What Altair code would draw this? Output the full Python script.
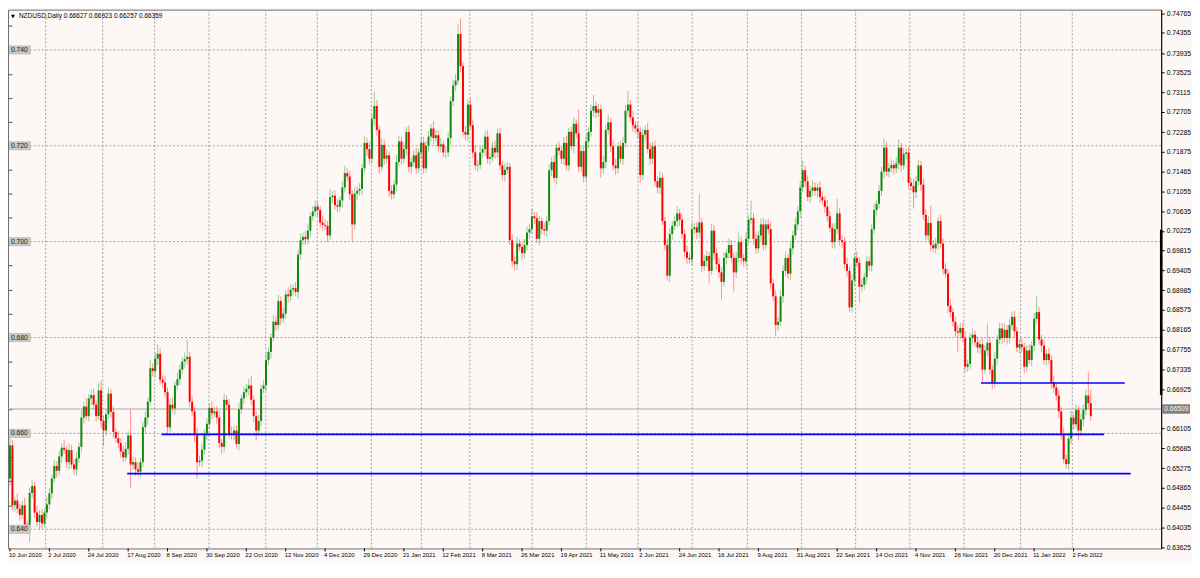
import json
import altair as alt
import pandas as pd

# ---------------- data (prices in 1/10000 units) ----------------
first_open = 6506
closes = [
    6575, 6450, 6460, 6443, 6430, 6450, 6410, 6400, 6476, 6490,
    6435, 6415, 6430, 6412, 6435, 6452, 6475, 6506, 6532, 6522,
    6552, 6570, 6566, 6540, 6565, 6535, 6525, 6548, 6572, 6633,
    6656, 6636, 6673, 6680, 6660, 6636, 6690, 6626, 6606, 6640,
    6683, 6645, 6603, 6590, 6580, 6562, 6550, 6568, 6596, 6535,
    6540, 6525, 6520, 6540, 6613, 6633, 6666, 6736, 6730, 6756,
    6766, 6712, 6706, 6686, 6613, 6660, 6652, 6700, 6713, 6733,
    6750, 6755, 6760, 6666, 6646, 6596, 6540, 6543, 6566, 6600,
    6620, 6653, 6642, 6646, 6633, 6580, 6572, 6670, 6660, 6598,
    6600, 6606, 6578, 6650, 6673, 6686, 6693, 6700, 6670, 6636,
    6606, 6626, 6693, 6700, 6753, 6770, 6800, 6833, 6826, 6876,
    6840, 6850, 6890, 6886, 6900, 6903, 6895, 6973, 7003, 7010,
    7005, 7023, 7053, 7063, 7073, 7066, 7040, 7035, 7033, 7013,
    7093, 7096, 7076, 7073, 7086, 7113, 7143, 7136, 7099, 7036,
    7100, 7106, 7110, 7153, 7206, 7193, 7173, 7256, 7283, 7233,
    7156, 7202, 7173, 7180, 7106, 7099, 7119, 7166, 7209, 7173,
    7193, 7229, 7156, 7166, 7180, 7153, 7186, 7206, 7153, 7200,
    7219, 7236, 7216, 7222, 7199, 7203, 7186, 7186, 7216, 7293,
    7326, 7336, 7433, 7366, 7229, 7223, 7286, 7243, 7186, 7159,
    7160, 7186, 7193, 7219, 7173, 7176, 7196, 7186, 7226, 7159,
    7139, 7150, 7156, 7003, 6959, 6953, 6996, 6989, 6976, 6993,
    7019, 7026, 7053, 7049, 7006, 7043, 7026, 7023, 7043, 7149,
    7166, 7133, 7196, 7190, 7173, 7206, 7159, 7229, 7199, 7246,
    7226, 7156, 7189, 7136, 7209, 7229, 7273, 7283, 7269, 7276,
    7153, 7166, 7233, 7249, 7199, 7159, 7153, 7199, 7173, 7206,
    7273, 7286, 7259, 7243, 7236, 7229, 7139, 7223, 7233, 7193,
    7173, 7199, 7126, 7113, 7133, 7043, 6993, 6929, 7016, 7033,
    7043, 7059, 7046, 7016, 6979, 6966, 6963, 7026, 7030, 7019,
    7040, 6949, 6960, 6970, 6939, 7023, 6976, 6953, 6936, 6916,
    6966, 6976, 6993, 6966, 6936, 6966, 6999, 6966, 6959, 7006,
    7046, 7049, 7006, 6986, 7013, 7036, 6993, 7036, 7026, 6913,
    6886, 6826, 6833, 6886, 6939, 6966, 6933, 6986, 7013, 7036,
    7063, 7113, 7149, 7126, 7093, 7106, 7113, 7106, 7113, 7093,
    7086, 7073, 7053, 7029, 6999, 7026, 7059, 7003, 6999, 6953,
    6939, 6863, 6919, 6966, 6956, 6906, 6910, 6926, 6959, 6950,
    7026, 7066, 7079, 7106, 7146, 7196, 7146, 7153, 7160, 7153,
    7163, 7196, 7159, 7183, 7186, 7123, 7116, 7103, 7126, 7159,
    7119, 7056, 7013, 7039, 6993, 6986, 6996, 7043, 6996, 6943,
    6933, 6866, 6853, 6833, 6813, 6810, 6820, 6799, 6739, 6745,
    6799, 6806, 6790, 6779, 6786, 6733, 6773, 6789, 6733, 6706,
    6756, 6796, 6819, 6799, 6816, 6799, 6826, 6843, 6813, 6779,
    6786, 6780, 6739, 6773, 6753, 6783, 6839, 6853, 6796, 6783,
    6753, 6766, 6753, 6706, 6696, 6679, 6646, 6599, 6546, 6536,
    6589, 6633, 6619, 6649, 6606, 6629, 6649, 6679, 6663, 6636,
]
# wick lengths above / below the candle body (1/10000 units)
wick_up = [
    15, 12, 8, 14, 10, 9, 16, 7, 11, 13,
    9, 14, 10, 12, 8, 15, 11, 9, 13, 10,
    12, 9, 16, 8, 14, 11, 10, 13, 9, 15,
    10, 18, 9, 12, 14, 8, 16, 20, 11, 10,
    13, 9, 12, 8, 15, 10, 11, 14, 9, 54,
    12, 10, 15, 9, 11, 13, 8, 16, 10, 12,
    20, 11, 9, 14, 10, 12, 15, 8, 13, 11,
    9, 14, 36, 10, 12, 8, 15, 11, 13, 9,
    12, 10, 14, 9, 11, 16, 8, 13, 10, 12,
    15, 9, 11, 13, 8, 12, 10, 14, 20, 9,
    11, 13, 9, 12, 15, 10, 8, 14, 11, 13,
    10, 12, 9, 16, 11, 8, 13, 10, 14, 9,
    12, 15, 8, 11, 13, 10, 9, 14, 12, 10,
    16, 9, 11, 13, 8, 12, 15, 10, 11, 9,
    13, 10, 12, 9, 14, 11, 15, 10, 30, 12,
    9, 14, 11, 13, 8, 12, 10, 15, 11, 9,
    14, 10, 13, 9, 12, 16, 8, 11, 13, 10,
    12, 9, 15, 11, 10, 13, 8, 14, 12, 10,
    11, 14, 20, 32, 9, 12, 10, 13, 11, 15,
    10, 13, 9, 12, 14, 8, 11, 15, 10, 12,
    9, 13, 11, 8, 12, 10, 14, 9, 11, 13,
    12, 10, 15, 9, 13, 11, 8, 14, 10, 12,
    11, 14, 9, 13, 10, 12, 15, 8, 11, 13,
    9, 50, 12, 10, 14, 11, 13, 23, 9, 12,
    10, 13, 11, 15, 9, 12, 14, 8, 11, 13,
    12, 28, 10, 14, 9, 13, 11, 12, 10, 15,
    13, 9, 12, 10, 14, 11, 8, 13, 12, 10,
    11, 15, 9, 12, 10, 13, 11, 14, 9, 12,
    60, 10, 13, 11, 9, 14, 12, 10, 13, 11,
    12, 9, 14, 10, 11, 13, 20, 12, 9, 14,
    10, 37, 11, 13, 9, 12, 14, 10, 11, 15,
    9, 12, 10, 14, 11, 13, 8, 12, 10, 14,
    11, 13, 20, 9, 12, 10, 15, 11, 9, 13,
    12, 10, 14, 11, 9, 13, 30, 12, 10, 11,
    13, 9, 12, 10, 14, 11, 13, 9, 12, 10,
    11, 14, 9, 12, 10, 20, 13, 11, 12, 9,
    14, 17, 10, 12, 9, 13, 11, 15, 10, 12,
    9, 13, 11, 14, 37, 10, 12, 9, 13, 11,
    12, 10, 14, 9, 11, 13, 10, 12, 15, 9,
    11, 13, 9, 12, 10, 14, 11, 40, 12, 10,
    13, 9, 12, 11, 14, 10, 12, 10, 13, 9,
    12, 14, 10, 11, 13, 9, 12, 34, 11, 10,
    13, 9, 12, 10, 14, 11, 12, 9, 13, 10,
    11, 14, 10, 12, 9, 13, 11, 12, 50, 29,
]
wick_dn = [
    16, 10, 13, 9, 12, 8, 14, 11, 27, 10,
    12, 9, 14, 11, 8, 13, 10, 12, 9, 14,
    10, 13, 9, 12, 15, 8, 11, 14, 10, 12,
    13, 9, 11, 14, 10, 12, 8, 15, 33, 11,
    10, 12, 14, 9, 11, 13, 10, 8, 12, 49,
    11, 14, 9, 12, 10, 13, 15, 8, 11, 12,
    13, 10, 12, 9, 14, 11, 8, 13, 10, 12,
    9, 13, 11, 12, 10, 14, 34, 9, 12, 11,
    14, 10, 12, 9, 13, 11, 15, 10, 12, 9,
    11, 14, 10, 13, 9, 12, 10, 14, 11, 13,
    20, 10, 13, 9, 12, 11, 14, 8, 12, 10,
    13, 9, 11, 14, 10, 12, 9, 13, 11, 10,
    12, 10, 14, 9, 11, 13, 10, 12, 9, 14,
    10, 13, 9, 12, 11, 14, 10, 9, 12, 36,
    11, 13, 10, 12, 9, 14, 11, 10, 13, 12,
    14, 10, 12, 9, 13, 11, 10, 14, 9, 12,
    10, 13, 11, 14, 9, 12, 10, 13, 11, 9,
    12, 10, 14, 9, 11, 13, 10, 12, 9, 14,
    10, 12, 9, 13, 10, 11, 14, 9, 12, 10,
    13, 9, 11, 14, 10, 12, 9, 13, 11, 10,
    12, 14, 9, 10, 11, 14, 12, 9, 13, 10,
    11, 13, 10, 12, 9, 14, 11, 10, 13, 9,
    12, 10, 14, 9, 11, 13, 10, 12, 9, 14,
    10, 12, 11, 13, 9, 14, 10, 12, 11, 9,
    20, 11, 13, 9, 12, 10, 14, 11, 9, 13,
    10, 12, 9, 14, 11, 13, 16, 10, 12, 9,
    13, 11, 10, 12, 14, 9, 11, 10, 13, 12,
    9, 12, 14, 10, 11, 13, 9, 12, 10, 14,
    11, 13, 10, 12, 26, 9, 14, 11, 12, 37,
    10, 13, 11, 9, 40, 12, 10, 14, 11, 13,
    12, 9, 13, 11, 10, 14, 12, 9, 11, 13,
    10, 23, 12, 9, 14, 11, 10, 13, 12, 9,
    11, 14, 10, 12, 9, 13, 11, 10, 14, 12,
    9, 13, 11, 10, 12, 14, 9, 11, 13, 10,
    12, 10, 11, 13, 9, 33, 12, 10, 14, 11,
    13, 9, 12, 10, 11, 14, 10, 12, 9, 13,
    10, 12, 14, 9, 11, 13, 10, 34, 12, 9,
    13, 11, 10, 12, 14, 9, 11, 13, 10, 12,
    9, 14, 11, 10, 12, 41, 13, 9, 11, 10,
    12, 14, 10, 11, 13, 27, 9, 12, 10, 14,
    11, 13, 9, 12, 10, 14, 11, 10, 13, 9,
    12, 10, 14, 11, 9, 13, 12, 10, 11, 14,
    10, 12, 9, 13, 11, 10, 14, 12, 9, 10,
    13, 11, 12, 9, 20, 10, 14, 11, 12, 10,
]

date_labels = [
    "10 Jun 2020", "2 Jul 2020", "24 Jul 2020", "17 Aug 2020", "8 Sep 2020",
    "30 Sep 2020", "22 Oct 2020", "12 Nov 2020", "4 Dec 2020", "29 Dec 2020",
    "21 Jan 2021", "12 Feb 2021", "8 Mar 2021", "26 Mar 2021", "19 Apr 2021",
    "11 May 2021", "2 Jun 2021", "24 Jun 2021", "16 Jul 2021", "9 Aug 2021",
    "31 Aug 2021", "22 Sep 2021", "14 Oct 2021", "4 Nov 2021", "26 Nov 2021",
    "20 Dec 2021", "11 Jan 2022", "2 Feb 2022",
]
label_bars = [0, 16, 32, 48, 64, 80, 96, 112, 128, 144, 160, 176, 192, 208,
              224, 240, 256, 272, 288, 304, 320, 336, 352, 368, 384, 400, 416, 432]
month_grid = [14.5, 37.7, 58.8, 80.8, 103.9, 124.8, 146.8, 167.1, 186.8, 212.1,
              234.1, 255.1, 277.1, 299.5, 321.5, 343.5, 365.5, 387.5, 410.5, 431.5]
grid_prices = [0.640, 0.660, 0.680, 0.700, 0.720, 0.740]
grid_texts = ["0.640", "0.660", "0.680", "0.700", "0.720", "0.740"]
left_ticks = [0.640, 0.645, 0.650, 0.655, 0.660, 0.665, 0.670, 0.675, 0.680, 0.685, 0.690,
              0.695, 0.700, 0.705, 0.710, 0.715, 0.720, 0.725, 0.730, 0.735, 0.740, 0.745]
right_ticks = [0.74765, 0.74355, 0.73935, 0.73525, 0.73115, 0.72705, 0.72285, 0.71875,
               0.71465, 0.71055, 0.70635, 0.70225, 0.69815, 0.69405, 0.68985, 0.68575,
               0.68165, 0.67755, 0.67335, 0.66925, 0.66105, 0.65685, 0.65275, 0.64865,
               0.64455, 0.64035, 0.63625]
bid_price = 0.66509
bid_text = "0.66509"
blue_levels = [0.6705, 0.6598, 0.6516]
blue_start = [394.4, 61.6, 47.6]
blue_end = [452.8, 444.4, 455.2]
range_top, range_bottom = 0.7025, 0.6680
title_text = "NZDUSD,Daily  0.66627 0.66923 0.66257 0.66359"

# ---------------- build ----------------
W, H = 1160, 542
BG = "#fdf8f6"
FONT = "Liberation Sans"

n = len(closes)
assert len(wick_up) == n and len(wick_dn) == n
opens = [first_open] + closes[:-1]
rows = []
for i in range(n):
    o, c = opens[i], closes[i]
    rows.append({
        "i": i,
        "o": o / 10000.0,
        "c": c / 10000.0,
        "h": (max(o, c) + wick_up[i]) / 10000.0,
        "l": (min(o, c) - wick_dn[i]) / 10000.0,
        "dir": "up" if c >= o else "down",
    })
df = pd.DataFrame(rows)

xscale = alt.Scale(domain=[-0.8, 467.6], nice=False, zero=False)
yscale = alt.Scale(domain=[0.636, 0.7484], nice=False, zero=False)
color = alt.Color("dir:N", scale=alt.Scale(domain=["up", "down"], range=["#118a11", "#ff0000"]),
                  legend=None)

left_axis = alt.Axis(orient="left", values=left_ticks, labels=False, ticks=True, tickSize=4,
                     tickColor="#555555", offset=-4, domain=False, grid=False, title=None)
right_axis = alt.Axis(orient="right", values=right_ticks, format=".5f", labelFont=FONT,
                      labelFontSize=6.8, labelColor="#000000", tickSize=3, tickColor="#000000",
                      domain=True, domainColor="#000000", labelPadding=2, grid=False,
                      title=None, labelOverlap=False)

vgrid = alt.Chart(pd.DataFrame({"g": month_grid})).mark_rule(
    color="#a0a0a0", strokeDash=[2, 2], strokeWidth=1
).encode(x=alt.X("g:Q", scale=xscale, axis=None))

hgrid = alt.Chart(pd.DataFrame({"p": grid_prices})).mark_rule(
    color="#a0a0a0", strokeDash=[2, 2], strokeWidth=1
).encode(y=alt.Y("p:Q", scale=yscale, axis=left_axis))

bidline = alt.Chart(pd.DataFrame({"p": [bid_price]})).mark_rule(
    color="#a8a8a8", strokeWidth=1
).encode(y=alt.Y("p:Q", scale=yscale, axis=None))

wicks = alt.Chart(df).mark_rule(strokeWidth=1, opacity=0.42).encode(
    x=alt.X("i:Q", scale=xscale, axis=None),
    y=alt.Y("l:Q", scale=yscale, axis=None),
    y2="h:Q",
    color=color,
)
bodies = alt.Chart(df).mark_rule(strokeWidth=2).encode(
    x=alt.X("i:Q", scale=xscale, axis=None),
    y=alt.Y("o:Q", scale=yscale, axis=right_axis),
    y2="c:Q",
    color=color,
)

blue = alt.Chart(pd.DataFrame({"p": blue_levels, "x1": blue_start, "x2": blue_end})).mark_rule(
    color="#0000ff", strokeWidth=1.6
).encode(
    x=alt.X("x1:Q", scale=xscale, axis=None), x2="x2:Q",
    y=alt.Y("p:Q", scale=yscale, axis=None),
)

rangebar = alt.Chart(pd.DataFrame({"a": [range_top], "b": [range_bottom]})).mark_rule(
    color="#000000", strokeWidth=2.5
).encode(x=alt.value(W), y=alt.Y("a:Q", scale=yscale, axis=None), y2="b:Q")

bid_df = pd.DataFrame({"p": [bid_price], "t": [bid_text]})
bidbox = alt.Chart(bid_df).mark_point(
    shape="M-1,-0.34H1V0.34H-1Z", size=28 * 28, filled=True, color="#808080", opacity=1,
    strokeWidth=0
).encode(x=alt.value(W + 15), y=alt.Y("p:Q", scale=yscale, axis=None))
bidtxt = alt.Chart(bid_df).mark_text(
    align="left", baseline="middle", font=FONT, fontSize=6.8, color="#f4f4f4"
).encode(x=alt.value(W + 3), y=alt.Y("p:Q", scale=yscale, axis=None), text="t:N")

lab_df = pd.DataFrame({"p": grid_prices, "t": grid_texts})
labbox = alt.Chart(lab_df).mark_point(
    shape="M-1,-0.42H1V0.42H-1Z", size=22 * 22, filled=True, color="#c6c6c6", opacity=1,
    strokeWidth=0
).encode(x=alt.value(12), y=alt.Y("p:Q", scale=yscale, axis=None))
labtxt = alt.Chart(lab_df).mark_text(
    align="left", baseline="middle", font=FONT, fontSize=6.8, color="#222222"
).encode(x=alt.value(3), y=alt.Y("p:Q", scale=yscale, axis=None), text="t:N")

# bottom date axis drawn as text + tick marks
date_df = pd.DataFrame({"b": label_bars, "t": date_labels})
date_ticks = alt.Chart(date_df).mark_rule(color="#000000", strokeWidth=1).encode(
    x=alt.X("b:Q", scale=xscale, axis=None), y=alt.value(H), y2=alt.value(H + 3)
)
date_text = alt.Chart(date_df).mark_text(
    align="left", baseline="top", font=FONT, fontSize=6, color="#000000", dx=-1
).encode(x=alt.X("b:Q", scale=xscale, axis=None), y=alt.value(H + 4), text="t:N")

title_df = pd.DataFrame({"t": [title_text], "m": ["\u25BC"]})
tri = alt.Chart(title_df).mark_text(
    align="left", baseline="middle", font="DejaVu Sans", fontSize=5, color="#000000"
).encode(x=alt.value(3), y=alt.value(6), text="m:N")
ttl = alt.Chart(title_df).mark_text(
    align="left", baseline="middle", font=FONT, fontSize=6.5, color="#000000"
).encode(x=alt.value(11), y=alt.value(6), text="t:N")

chart = alt.layer(
    vgrid, hgrid, bidline, wicks, bodies, blue, rangebar,
    bidbox, bidtxt, labbox, labtxt, date_ticks, date_text, tri, ttl
).resolve_axis(y="independent").properties(
    width=W, height=H, background=BG,
    padding={"left": 0, "top": 0, "right": 31, "bottom": 14},
    autosize=alt.AutoSizeParams(type="none"),
).configure_view(stroke="#707070", strokeWidth=1, fill=BG)

chart.save("out.html", embed_options={"renderer": "svg", "actions": False})
